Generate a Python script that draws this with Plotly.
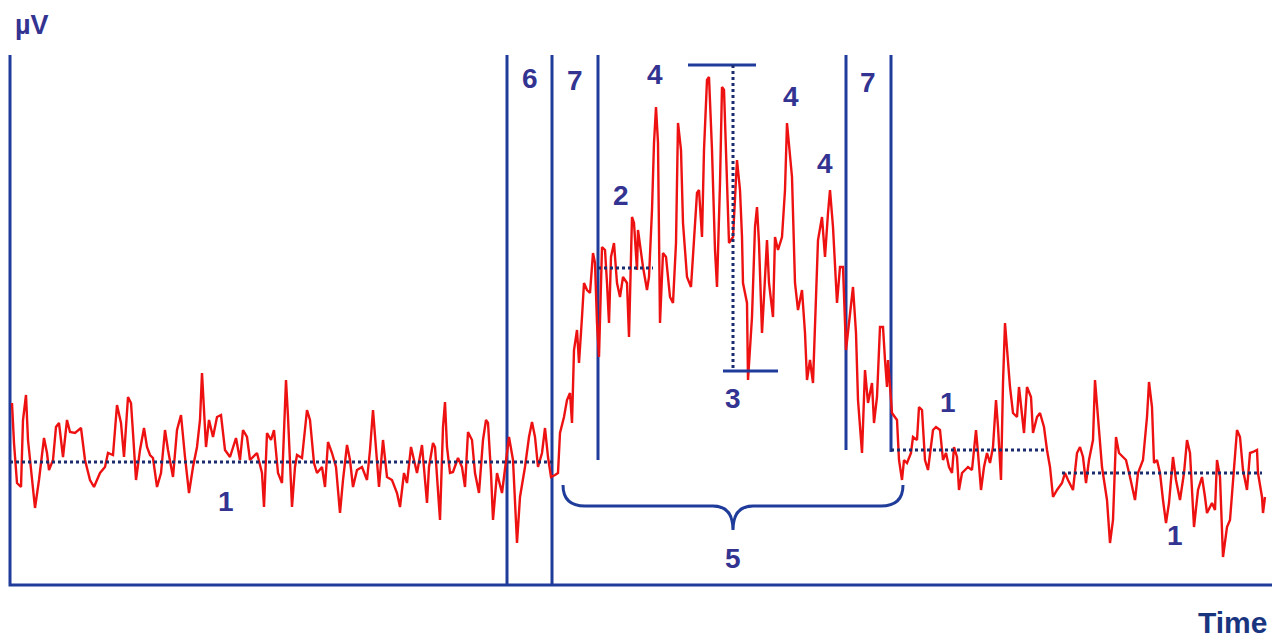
import plotly.graph_objects as go

# ---- EMG-like signal (time, µV) ----
time = [2,4,7,11,13,16,18,22,25,29,34,37,39,43,46,49,53,57,60,65,71,75,80,84,90,95,98,103,107,111,
        114,118,121,123,126,130,134,137,140,143,147,151,155,158,163,167,171,175,179,183,187,190,192,196,199,203,207,211,215,220,
        226,230,233,237,240,247,252,254,257,261,264,268,272,276,278,282,285,287,292,297,300,304,307,312,315,318,322,326,330,333,
        337,340,343,347,352,357,360,363,367,369,373,377,382,387,390,394,397,401,404,407,412,415,417,419,423,425,427,430,433,435,
        437,440,443,448,452,455,458,462,465,469,473,476,478,481,483,487,492,495,499,503,506,507,510,515,519,522,525,528,532,535,
        538,541,545,548,550,554,557,560,562,564,567,569,572,574,577,580,583,585,587,589,592,595,597,599,601,604,607,610,613,617,
        619,622,624,627,628,631,633,637,639,642,644,646,648,650,653,656,660,663,666,668,671,673,677,681,684,687,689,692,694,697,
        699,702,705,707,710,712,714,717,719,723,727,730,732,733,737,738,742,745,747,749,752,754,757,759,763,765,768,772,775,777,
        779,782,785,788,792,795,797,800,803,805,808,812,815,818,820,823,825,827,830,833,836,840,843,846,848,852,855,858,862,864,
        867,870,873,875,877,878,882,887,889,892,894,897,901,903,907,909,912,915,918,923,926,930,933,936,939,942,944,947,949,952,
        955,958,962,966,968,971,974,977,980,983,986,988,991,993,995,997,1000,1003,1007,1009,1012,1014,1017,1021,1023,1027,1030,1034,1037,1040,
        1043,1047,1052,1055,1058,1063,1067,1070,1073,1076,1079,1083,1085,1088,1092,1097,1100,1103,1106,1109,1113,1116,1120,1125,1128,1133,1137,1139,1142,1144,
        1147,1150,1153,1156,1159,1163,1166,1170,1174,1177,1180,1184,1188,1192,1195,1197,1202,1205,1207,1210,1213,1217,1220,1223,1227,1230,1233,1237,1240,1243,
        1247,1248,1252,1253,1255]
microvolts = [182,142,102,98,165,190,145,102,77,105,147,132,115,125,158,162,128,165,153,152,157,125,105,98,112,118,132,130,180,162,
        128,188,182,152,105,135,157,138,130,127,98,112,155,135,108,155,170,128,92,118,138,165,212,138,165,148,168,170,135,128,
        147,125,155,148,125,132,112,78,152,145,155,112,102,205,168,78,118,130,127,175,165,122,112,118,98,143,132,118,72,105,
        140,125,98,115,118,105,135,175,118,98,145,108,105,92,78,112,102,138,125,112,140,102,82,118,142,138,105,65,158,183,
        138,112,113,127,118,98,153,145,112,92,145,165,162,112,65,112,92,118,148,125,65,42,88,118,148,163,148,118,132,157,
        128,108,110,112,152,168,185,192,162,235,255,222,268,302,295,292,332,322,262,228,338,335,302,262,328,342,302,288,308,302,
        248,368,362,315,355,332,318,295,308,375,442,478,442,262,332,328,288,282,342,462,435,362,308,298,348,392,395,348,435,505,
        508,435,335,298,402,498,495,408,342,348,425,395,348,302,282,205,268,358,378,342,252,288,345,302,268,348,335,348,395,462,
        442,408,302,275,295,252,205,225,202,268,345,368,328,372,395,358,322,282,318,318,235,268,298,252,185,132,215,182,202,162,
        188,258,258,225,198,225,172,165,125,105,125,122,132,148,145,178,175,125,115,155,158,155,125,132,118,112,138,128,95,112,
        115,118,115,155,132,95,118,132,122,138,185,158,105,202,262,232,198,172,168,198,172,152,198,188,152,168,172,158,135,118,
        88,95,102,112,105,95,132,138,128,102,125,145,205,165,118,85,42,65,148,132,128,125,108,85,112,125,168,203,178,122,
        125,112,85,62,82,128,105,85,112,145,132,58,95,108,88,72,82,75,125,108,28,58,65,108,155,148,115,95,132,133,
        135,112,88,72,88]

# ---- annotation marks (same units) ----
axis_top = 530
axis_right = 1262
marker_times = [497, 542, 588, 836, 881]
marker_bottoms = [0, 0, 125, 135, 133]
baseline_starts = [0, 588, 881, 1052]
baseline_ends = [545, 643, 1035, 1252]
baseline_levels = [123, 317, 135, 112]
amp_bar_starts = [678, 713]
amp_bar_ends = [746, 768]
amp_bar_levels = [520, 214]
amp_time = 723
label_texts = ["6", "7", "4", "4", "4", "7", "2", "3", "5", "1", "1", "1"]
label_times = [520, 565, 645, 781, 815, 858, 611, 723, 723, 216, 938, 1165]
label_values = [507, 505, 511, 489, 422, 503, 390, 187, 27, 84, 183, 50]

BLUE = "#1f3c9b"
NAVY = "#1b2d6e"
TXT = "#333392"

fig = go.Figure()

# axes
fig.add_trace(go.Scatter(x=[0, 0, axis_right], y=[axis_top, 0, 0], mode="lines",
                         line=dict(color=BLUE, width=3), hoverinfo="skip", showlegend=False))
# vertical phase markers
for t, b in zip(marker_times, marker_bottoms):
    fig.add_trace(go.Scatter(x=[t, t], y=[b, axis_top], mode="lines",
                             line=dict(color=BLUE, width=3), hoverinfo="skip", showlegend=False))
# signal
fig.add_trace(go.Scatter(x=time, y=microvolts, mode="lines",
                         line=dict(color="#ee1111", width=2.4), hoverinfo="skip", showlegend=False))
# dotted baselines
for s, e, v in zip(baseline_starts, baseline_ends, baseline_levels):
    fig.add_trace(go.Scatter(x=[s, e], y=[v, v], mode="lines",
                             line=dict(color=NAVY, width=3, dash="dot"), hoverinfo="skip", showlegend=False))
# amplitude bars
for s, e, v in zip(amp_bar_starts, amp_bar_ends, amp_bar_levels):
    fig.add_trace(go.Scatter(x=[s, e], y=[v, v], mode="lines",
                             line=dict(color=BLUE, width=3), hoverinfo="skip", showlegend=False))
fig.add_trace(go.Scatter(x=[amp_time, amp_time], y=amp_bar_levels, mode="lines",
                         line=dict(color=NAVY, width=3, dash="dot"), hoverinfo="skip", showlegend=False))

# brace "5"
brace = "M 553,100 Q 553,79 575,79 L 703,79 Q 723,79 723,55 Q 723,79 743,79 L 871,79 Q 893,79 893,100"
fig.add_shape(type="path", path=brace, xref="x", yref="y", line=dict(color=BLUE, width=3))

for txt, t, v in zip(label_texts, label_times, label_values):
    fig.add_annotation(x=t, y=v, text=f"<b>{txt}</b>", showarrow=False,
                       font=dict(family="Liberation Sans, Arial", size=28, color=TXT))
fig.add_annotation(x=22, y=560, text="<b>µV</b>", showarrow=False,
                   font=dict(family="Liberation Sans, Arial", size=27, color=TXT))
fig.add_annotation(x=1222, y=-37, text="<b>Time</b>", showarrow=False,
                   font=dict(family="Liberation Sans, Arial", size=30, color="#1a3580"))

# page body has an 8px margin, so the figure is 8px smaller and its ranges start 8px in
fig.update_layout(width=1273, height=630, margin=dict(l=0, r=0, t=0, b=0),
                  plot_bgcolor="white", paper_bgcolor="white", showlegend=False,
                  xaxis=dict(range=[-2, 1271], visible=False, fixedrange=True),
                  yaxis=dict(range=[-53, 577], visible=False, fixedrange=True))

fig.write_html("out.html")
